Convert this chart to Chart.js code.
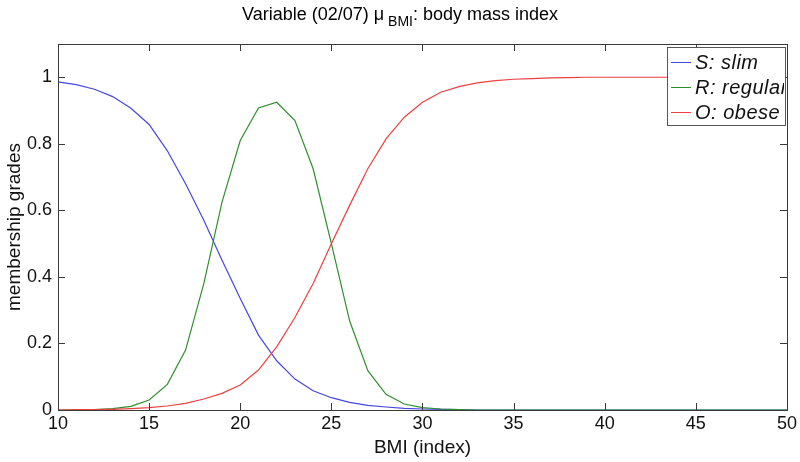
<!DOCTYPE html>
<html>
<head>
<meta charset="utf-8">
<script src="https://cdn.jsdelivr.net/npm/chart.js@4/dist/chart.umd.min.js"></script>
<style>
  html, body { margin: 0; padding: 0; background: #fff; }
  #wrap { width: 800px; height: 462px; }
</style>
</head>
<body>
<div id="wrap"><canvas id="bmi"></canvas></div>
<script>
// data
const bmi = [10, 11, 12, 13, 14, 15, 16, 17, 18, 19, 20, 21, 22, 23, 24, 25, 26, 27, 28, 29,
             30, 31, 32, 33, 34, 35, 36, 37, 38, 39, 40, 41, 42, 43, 44, 45, 46, 47, 48, 49, 50];
const slim = [0.986, 0.978, 0.964, 0.942, 0.907, 0.858, 0.779, 0.680, 0.570, 0.450,
              0.335, 0.225, 0.148, 0.093, 0.058, 0.037, 0.023, 0.014, 0.009, 0.005,
              0.003, 0.002, 0.001, 0, 0, 0, 0, 0, 0, 0, 0, 0, 0, 0, 0, 0, 0, 0, 0, 0, 0];
const regular = [0, 0, 0.001, 0.004, 0.011, 0.030, 0.077, 0.180, 0.380, 0.625,
                 0.810, 0.908, 0.925, 0.870, 0.725, 0.500, 0.268, 0.118, 0.047, 0.018,
                 0.007, 0.003, 0.001, 0, 0, 0, 0, 0, 0, 0, 0, 0, 0, 0, 0, 0, 0, 0, 0, 0, 0];
const obese = [0, 0.001, 0.001, 0.002, 0.004, 0.007, 0.012, 0.020, 0.033, 0.050,
               0.075, 0.120, 0.190, 0.278, 0.380, 0.500, 0.615, 0.725, 0.815, 0.880,
               0.925, 0.955, 0.972, 0.983, 0.990, 0.994, 0.996, 0.998, 0.999, 1, 1, 1, 1, 1, 1, 1, 1, 1, 1, 1, 1];
const xTicks = [10, 15, 20, 25, 30, 35, 40, 45, 50];
const yTicks = [0, 0.2, 0.4, 0.6, 0.8, 1];
const seriesNames = ['S: slim', 'R: regular', 'O: obese'];
const seriesColors = ['#4646e4', '#2f8f2f', '#ee4040'];

const FONT = 'Liberation Sans, Arial, Helvetica, sans-serif';
const AXIS = '#3a3a3a';

function pts(ys) {
  return bmi.map((x, i) => ({ x: x, y: ys[i] }));
}

// MATLAB style box with inward ticks on every side
const boxTicks = {
  id: 'boxTicks',
  afterDatasetsDraw(chart) {
    const { ctx, chartArea: a, scales } = chart;
    const len = 7;
    ctx.save();
    ctx.strokeStyle = AXIS;
    ctx.lineWidth = 1;
    ctx.beginPath();
    xTicks.forEach(v => {
      const px = Math.round(scales.x.getPixelForValue(v)) + 0.5;
      ctx.moveTo(px, a.bottom); ctx.lineTo(px, a.bottom - len);
      ctx.moveTo(px, a.top); ctx.lineTo(px, a.top + len);
    });
    yTicks.forEach(v => {
      const py = Math.round(scales.y.getPixelForValue(v)) + 0.5;
      ctx.moveTo(a.left, py); ctx.lineTo(a.left + len, py);
      ctx.moveTo(a.right, py); ctx.lineTo(a.right - len, py);
    });
    ctx.stroke();
    ctx.strokeRect(Math.round(a.left) + 0.5, Math.round(a.top) + 0.5,
                   Math.round(a.right - a.left), Math.round(a.bottom - a.top));
    ctx.restore();
  }
};

// title with subscript
const subTitle = {
  id: 'subTitle',
  afterDraw(chart) {
    const ctx = chart.ctx;
    const head = 'Variable (02/07) \u03bc';
    const sub = 'BMI';
    const tail = ': body mass index';
    ctx.save();
    ctx.fillStyle = '#000';
    ctx.textBaseline = 'alphabetic';
    ctx.font = '18px ' + FONT;
    const w1 = ctx.measureText(head).width;
    const w3 = ctx.measureText(tail).width;
    ctx.font = '14px ' + FONT;
    const w2 = ctx.measureText(sub).width;
    const gap = 4;
    let x = 400 - (w1 + gap + w2 + w3) / 2;
    ctx.font = '18px ' + FONT;
    ctx.fillText(head, x, 20);
    x += w1 + gap;
    ctx.font = '14px ' + FONT;
    ctx.fillText(sub, x, 26);
    x += w2;
    ctx.font = '18px ' + FONT;
    ctx.fillText(tail, x, 20);
    ctx.restore();
  }
};

// legend box inside the axes, top right
const boxLegend = {
  id: 'boxLegend',
  afterDraw(chart) {
    const ctx = chart.ctx;
    const a = chart.chartArea;
    const bx = a.right - 120, by = a.top + 3, bw = 118, bh = 78;
    ctx.save();
    ctx.fillStyle = '#fff';
    ctx.fillRect(bx, by, bw, bh);
    ctx.strokeStyle = '#555';
    ctx.lineWidth = 1;
    ctx.strokeRect(bx + 0.5, by + 0.5, bw, bh);
    ctx.beginPath();
    ctx.rect(bx + 1, by + 1, bw - 2, bh - 2);
    ctx.clip();
    ctx.font = 'italic 20px ' + FONT;
    ctx.letterSpacing = '0.5px';
    ctx.textBaseline = 'middle';
    seriesNames.forEach((name, i) => {
      const y = by + 15 + i * 25;
      ctx.strokeStyle = seriesColors[i];
      ctx.beginPath();
      ctx.moveTo(bx + 4, y + 0.5); ctx.lineTo(bx + 24, y + 0.5);
      ctx.stroke();
      ctx.fillStyle = '#111';
      ctx.fillText(name, bx + 28, y + 1);
    });
    ctx.restore();
  }
};

const chart = new Chart(document.getElementById('bmi'), {
  type: 'line',
  data: {
    datasets: [
      { label: seriesNames[0], data: pts(slim), borderColor: seriesColors[0], order: 3 },
      { label: seriesNames[1], data: pts(regular), borderColor: seriesColors[1], order: 2 },
      { label: seriesNames[2], data: pts(obese), borderColor: seriesColors[2], order: 1 }
    ]
  },
  options: {
    responsive: true,
    maintainAspectRatio: false,
    animation: false,
    layout: { padding: { top: 44, right: 13, left: 0, bottom: 0 } },
    elements: {
      line: { borderWidth: 1.2, tension: 0 },
      point: { radius: 0 }
    },
    datasets: { line: { clip: 2 } },
    plugins: {
      legend: { display: false },
      tooltip: { enabled: false },
      title: { display: false }
    },
    scales: {
      x: {
        type: 'linear',
        min: 10,
        max: 50,
        afterBuildTicks: s => { s.ticks = xTicks.map(v => ({ value: v })); },
        afterFit: s => { s.height = 52; },
        grid: { display: false, drawTicks: false },
        border: { display: false },
        ticks: { color: '#111', font: { family: FONT, size: 18 }, padding: 3, maxRotation: 0 },
        title: { display: true, text: 'BMI (index)', color: '#111',
                 font: { family: FONT, size: 19 }, padding: { top: 0, bottom: 3 } }
      },
      y: {
        min: 0,
        max: 1.1,
        afterBuildTicks: s => { s.ticks = yTicks.map(v => ({ value: v })); },
        afterFit: s => { s.width = 58; },
        grid: { display: false, drawTicks: false },
        border: { display: false },
        ticks: { color: '#111', font: { family: FONT, size: 18 }, padding: 6,
                 callback: v => String(+v.toFixed(1)) },
        title: { display: true, text: 'membership grades', color: '#111',
                 font: { family: FONT, size: 19 }, padding: { top: 3, bottom: 0 } }
      }
    }
  },
  plugins: [boxTicks, subTitle, boxLegend]
});
</script>
</body>
</html>
